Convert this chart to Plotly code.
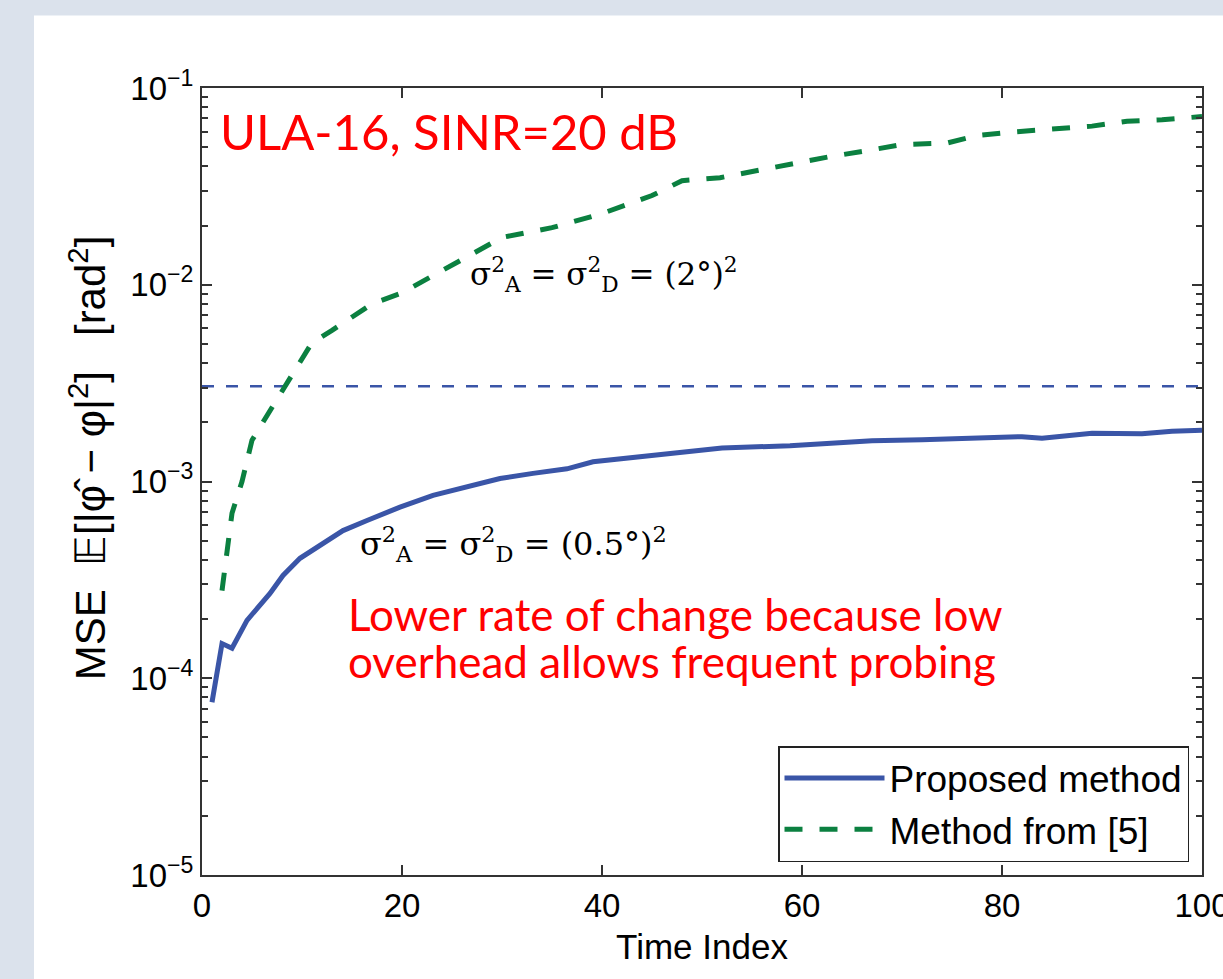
import plotly.graph_objects as go

# ---------------- data ----------------
prop_x = [1, 2, 3, 4.5, 6.8, 8.1, 9.8, 12.1, 14.1, 16.5, 19.8, 23.1, 26.5, 29.8, 33.1,
          36.5, 39.1, 43.1, 46.5, 49.8, 52, 58.8, 62.8, 67, 72, 77, 82, 84, 89, 94, 97, 100]
prop_y = [7.55e-5, 1.50e-4, 1.42e-4, 1.97e-4, 2.70e-4, 3.33e-4, 4.07e-4, 4.83e-4, 5.63e-4,
          6.34e-4, 7.41e-4, 8.5e-4, 9.44e-4, 1.035e-3, 1.10e-3, 1.16e-3, 1.26e-3, 1.32e-3,
          1.37e-3, 1.44e-3, 1.48e-3, 1.52e-3, 1.56e-3, 1.61e-3, 1.63e-3, 1.66e-3, 1.69e-3,
          1.66e-3, 1.76e-3, 1.75e-3, 1.80e-3, 1.82e-3]

ref_x = [2, 3, 4, 5, 6.8, 8.5, 9.8, 11, 13, 17, 20, 25, 30, 35, 40, 45, 48, 51.8, 55.5,
         59, 62.8, 66.5, 70, 74.5, 77.5, 81, 85, 89, 92.5, 96, 100]
ref_y = [2.79e-4, 6.9e-4, 1.0e-3, 1.62e-3, 2.29e-3, 3.15e-3, 3.98e-3, 5.08e-3, 5.86e-3,
         8.0e-3, 9.1e-3, 1.26e-2, 1.74e-2, 1.95e-2, 2.30e-2, 2.84e-2, 3.38e-2, 3.5e-2,
         3.8e-2, 4.13e-2, 4.48e-2, 4.8e-2, 5.16e-2, 5.25e-2, 5.74e-2, 5.97e-2, 6.2e-2,
         6.4e-2, 6.78e-2, 6.9e-2, 7.16e-2]

threshold_x = [0, 100]
threshold_y = [3.05e-3, 3.05e-3]

series_names = ["Proposed method", "Method from [5]"]
x_ticks = [0, 20, 40, 60, 80, 100]
y_ticks = [1e-5, 1e-4, 1e-3, 1e-2, 1e-1]
y_ticktext = ["10<sup>\u22125</sup>", "10<sup>\u22124</sup>", "10<sup>\u22123</sup>",
              "10<sup>\u22122</sup>", "10<sup>\u22121</sup>"]
y_minor = [m * d for d in [1e-5, 1e-4, 1e-3, 1e-2] for m in range(2, 10)]

BLUE = "#3a55a7"
GREEN = "#0b8040"
RED = "#ff0000"
W, H = 1223, 979
L, R, T, B = 202, 21, 87.5, 104


def px(xp):
    return (xp - L) / (W - L - R)


def py(yp):
    return (H - B - yp) / (H - T - B)


fig = go.Figure()
fig.add_trace(go.Scatter(x=threshold_x, y=threshold_y, mode="lines", showlegend=False,
                         line=dict(color=BLUE, width=2.5, dash="12px,12px"), hoverinfo="skip"))
fig.add_trace(go.Scatter(x=prop_x, y=prop_y, mode="lines", name=series_names[0],
                         line=dict(color=BLUE, width=5)))
fig.add_trace(go.Scatter(x=ref_x, y=ref_y, mode="lines", name=series_names[1],
                         line=dict(color=GREEN, width=5, dash="18px,17px")))

axis_common = dict(showline=True, linecolor="#333333", linewidth=2, mirror="ticks",
                   ticks="inside", tickcolor="#333333", tickwidth=1.5, ticklen=10,
                   showgrid=False, zeroline=False, ticklabeloverflow="allow", automargin=False,
                   tickfont=dict(family="Liberation Sans, Arial", size=33, color="black"))

fig.update_layout(
    width=W, height=H, autosize=False,
    margin=dict(l=L, r=R, t=T, b=B, autoexpand=False),
    paper_bgcolor="#dbe2ec",
    plot_bgcolor="white",
    xaxis=dict(range=[0, 100], tickvals=x_ticks, **axis_common,
               title=dict(text="Time Index", standoff=12,
                          font=dict(family="Liberation Sans, Arial", size=35, color="black"))),
    yaxis=dict(type="log", range=[-5, -1], tickvals=y_ticks, ticktext=y_ticktext,
               minor=dict(tickvals=y_minor, ticks="inside", ticklen=6, tickcolor="#333333",
                          showgrid=False),
               **axis_common),
    legend=dict(x=px(1189), y=py(862), xanchor="right", yanchor="bottom",
                bgcolor="white", bordercolor="#222222", borderwidth=1.5,
                font=dict(family="Liberation Sans, Arial", size=37, color="black"),
                itemwidth=100, tracegroupgap=0),
    shapes=[dict(type="rect", xref="paper", yref="paper", layer="below",
                 x0=px(34), x1=px(W + 5), y0=py(H + 5), y1=py(15),
                 fillcolor="white", line=dict(width=0))],
    annotations=[
        dict(text="ULA-16, SINR=20 dB", x=px(218), y=py(131), xref="paper", yref="paper",
             xanchor="left", yanchor="middle", showarrow=False,
             font=dict(family="Lato", size=49, color=RED)),
        dict(text="\u03c3<sup>2</sup><sub>A</sub> = \u03c3<sup>2</sup><sub>D</sub> = (2\u00b0)<sup>2</sup>",
             x=px(468), y=py(274), xref="paper", yref="paper", xanchor="left", yanchor="middle",
             showarrow=False, font=dict(family="DejaVu Serif", size=31, color="black")),
        dict(text="\u03c3<sup>2</sup><sub>A</sub> = \u03c3<sup>2</sup><sub>D</sub> = (0.5\u00b0)<sup>2</sup>",
             x=px(358), y=py(544), xref="paper", yref="paper", xanchor="left", yanchor="middle",
             showarrow=False, font=dict(family="DejaVu Serif", size=32, color="black")),
        dict(text="Lower rate of change because low", x=px(346), y=py(614), xref="paper", yref="paper",
             xanchor="left", yanchor="middle", showarrow=False,
             font=dict(family="Lato", size=44, color=RED)),
        dict(text="overhead allows frequent probing", x=px(346), y=py(661), xref="paper", yref="paper",
             xanchor="left", yanchor="middle", showarrow=False,
             font=dict(family="Lato", size=44, color=RED)),
        dict(text="MSE  \U0001D53C[|\u03c6\u0302 \u2212 \u03c6|<sup>2</sup>]   [rad<sup>2</sup>]",
             x=px(88), y=py(458), xref="paper", yref="paper", xanchor="center", yanchor="middle",
             textangle=-90, showarrow=False,
             font=dict(family="Liberation Sans, Arial", size=42, color="black")),
    ],
)

fig.write_html("out.html",
               config={"responsive": False, "displayModeBar": False},
               post_script="document.body.style.margin='0';document.body.style.overflow='hidden';")
